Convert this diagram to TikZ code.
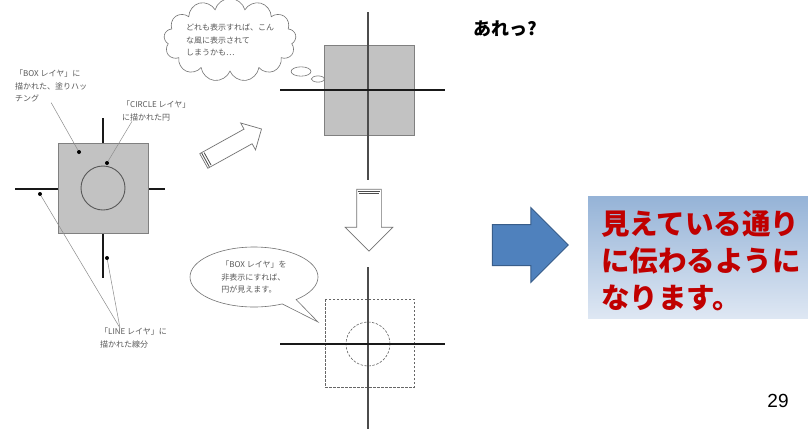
\documentclass[tikz,border=0pt]{standalone}
\usepackage{fontspec}
\setmainfont{Liberation Sans}
\newfontfamily\jp{Noto Sans CJK JP}
\usepackage{tikz}
\usetikzlibrary{calc,shapes.symbols,shapes.callouts,shapes.arrows,positioning}
\definecolor{hatchgray}{rgb}{0.76,0.76,0.76}
\definecolor{notegray}{rgb}{0.35,0.35,0.35}
\definecolor{arrowblue}{RGB}{79,129,189}
\definecolor{arrowedge}{RGB}{56,93,138}
\definecolor{msgred}{RGB}{192,0,0}
\definecolor{msgtop}{RGB}{149,179,215}
\definecolor{msgbottom}{RGB}{222,231,243}
\tikzset{
	layer_line/.style={line width=2.8pt, draw=black!90},
	hatch_box/.style={draw=black!50, fill=hatchgray, line width=0.9pt},
	hidden_box/.style={draw=black!60, line width=0.6pt, dash pattern=on 2.5pt off 1.5pt},
	ring/.style={draw=black!65, line width=0.9pt},
	note/.style={font=\jp\fontsize{8}{12.5}\selectfont, text=notegray, align=left, inner sep=0pt},
	leader/.style={draw=black!45, line width=0.5pt},
	pin/.style={circle, fill=black, inner sep=0pt, minimum size=4pt},
	hollow_arrow/.style={single arrow, draw=black!55, fill=white, line width=0.7pt,
		inner xsep=0pt, single arrow head indent=0pt},
	bubble/.style={draw=black!55, fill=white, line width=0.6pt, inner sep=1pt,
		font=\jp\fontsize{8}{12.5}\selectfont, text=notegray, align=left},
	stripe/.style={draw=black!70, line width=0.8pt}
}

\begin{document}
\begin{tikzpicture}[x=1pt, y=-1pt]
	\useasboundingbox[fill=white] (0,0) rectangle (808,429);

	% all layers shown together
	\draw[layer_line] (15,189) -- (165,189);
	\draw[layer_line] (103,118) -- (103,278);
	\draw[hatch_box] (58,143) rectangle (148,233);
	\draw[ring] (103,188) circle (22pt);
	\node[pin] (box_pin) at (79,152) {};
	\node[pin] (circle_pin) at (107,163) {};
	\node[pin] (line_pin_a) at (40,194) {};
	\node[pin] (line_pin_b) at (107,258) {};

	\node[note, anchor=north west] (box_note) at (15,70) {「BOX レイヤ」に\\描かれた、塗りハッ\\チング};
	\node[note, anchor=north west] (circle_note) at (122,101) {「CIRCLE レイヤ」\\に描かれた円};
	\node[note, anchor=north west] (line_note) at (100,328) {「LINE レイヤ」に\\描かれた線分};
	\draw[leader] (box_note.south) -- (box_pin);
	\draw[leader] ([xshift=10pt]circle_note.south west) -- (circle_pin);
	\draw[leader] ([xshift=20pt]line_note.north west) -- (line_pin_a);
	\draw[leader] ([xshift=20pt]line_note.north west) -- (line_pin_b);

	% the box hides the circle
	\draw[hatch_box] (324,45) rectangle (414,135);
	\draw[layer_line, draw=black!70] (368,12) -- (368,180);
	\draw[layer_line] (280,90) -- (445,90);

	% BOX layer switched off
	\draw[hidden_box] (325,299) rectangle (414,387);
	\draw[hidden_box] (368,344) circle (22pt);
	\draw[layer_line, draw=black!70] (368,267) -- (368,429);
	\draw[layer_line] (280,344) -- (445,344);

	\node[bubble, cloud callout, cloud puffs=13, aspect=2, inner sep=0pt,
		callout absolute pointer={(318,79)}] (worry) at (230,40)
		{どれも表示すれば、こん\\な風に表示されて\\しまうかも…};
	\node[bubble, ellipse callout, minimum width=128pt, minimum height=60pt,
		callout absolute pointer={(318,322)}] (hint) at (254,277)
		{「BOX レイヤ」を\\非表示にすれば、\\円が見えます。};

	\node[hollow_arrow, minimum height=66pt, inner ysep=8pt,
		single arrow head extend=7pt, rotate=29] (step_arrow) at (229,147) {};
	\node[hollow_arrow, minimum height=62pt, inner ysep=12pt,
		single arrow head extend=11.5pt, rotate=-90] (down_arrow) at (369,214) {};
	\foreach \d in {2.5pt,5pt} {
		\draw[stripe] ($(step_arrow.before tail)!\d!(step_arrow.before head)$) -- ($(step_arrow.after tail)!\d!(step_arrow.after head)$);
		\draw[stripe] ($(down_arrow.before tail)!\d!(down_arrow.before head)$) -- ($(down_arrow.after tail)!\d!(down_arrow.after head)$);
	}

	\node[anchor=west, font=\jp\bfseries\fontsize{18}{18}\selectfont] (huh) at (470,29) {あれっ?};

	\node[single arrow, fill=arrowblue, draw=arrowedge, line width=1pt,
		inner xsep=0pt, inner ysep=20pt, minimum height=76pt,
		single arrow head extend=17pt, single arrow head indent=0pt] (go_arrow) at (520,245) {};

	\shade[top color=msgtop, bottom color=msgbottom] (588,196) rectangle (808,318);
	\node[anchor=north west, inner sep=0pt, align=left, text=msgred,
		font=\jp\bfseries\fontsize{28.5}{37}\selectfont] (message) at (601,210)
		{見えている通り\\に伝わるように\\なります。};

	\node[font=\fontsize{19}{19}\selectfont] (page_no) at (778,401) {29};
\end{tikzpicture}
\end{document}
